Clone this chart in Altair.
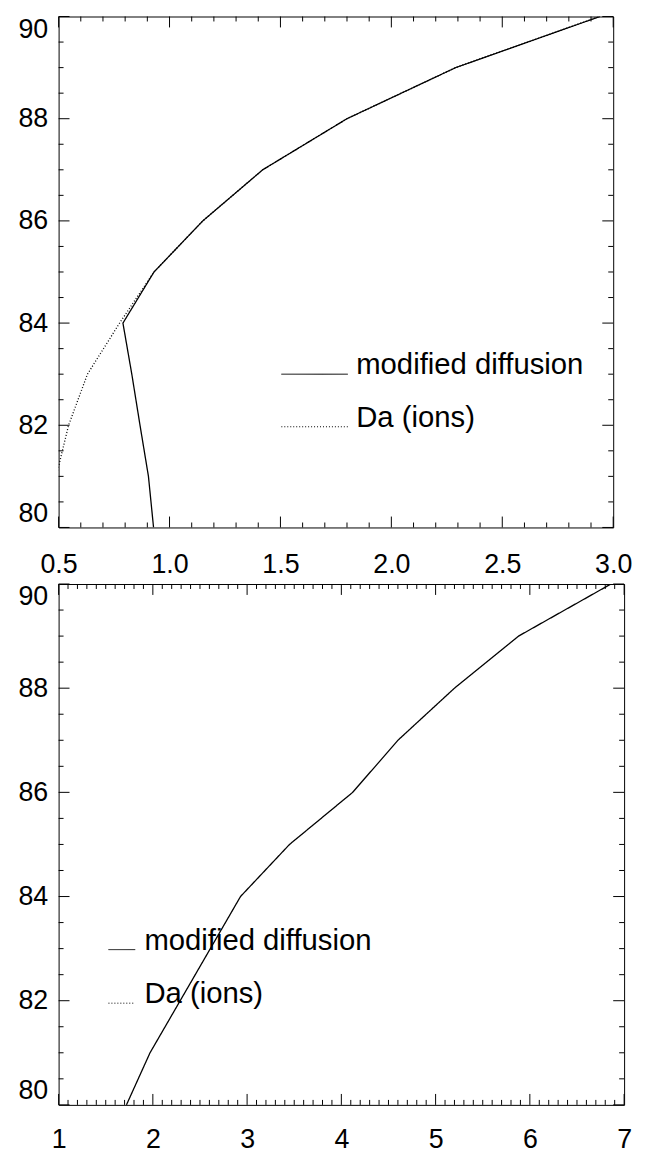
import altair as alt
import pandas as pd

# ---------------- data ----------------
series_names = ["modified diffusion", "Da (ions)"]

# top panel
top_solid_x = [0.928, 0.905, 0.867, 0.83, 0.79, 0.93, 1.15, 1.42, 1.80, 2.29, 2.94]
top_solid_y = [80, 81, 82, 83, 84, 85, 86, 87, 88, 89, 90]
top_dot_x = [0.489, 0.545, 0.63, 0.775, 0.93, 1.15, 1.42, 1.80, 2.29, 2.94]
top_dot_y = [81, 82, 83, 84, 85, 86, 87, 88, 89, 90]

# bottom panel
bot_solid_x = [1.72, 1.97, 2.29, 2.61, 2.93, 3.45, 4.12, 4.60, 5.20, 5.88, 6.86]
bot_solid_y = [80, 81, 82, 83, 84, 85, 86, 87, 88, 89, 90]

# tick positions
top_x_major = [0.5, 1.0, 1.5, 2.0, 2.5, 3.0]
top_x_minor = [0.6, 0.7, 0.8, 0.9, 1.1, 1.2, 1.3, 1.4, 1.6, 1.7, 1.8, 1.9,
               2.1, 2.2, 2.3, 2.4, 2.6, 2.7, 2.8, 2.9]
bot_x_major = [1, 2, 3, 4, 5, 6, 7]
bot_x_minor = [1.1, 1.2, 1.3, 1.4, 1.5, 1.6, 1.7, 1.8, 1.9,
               2.1, 2.2, 2.3, 2.4, 2.5, 2.6, 2.7, 2.8, 2.9,
               3.1, 3.2, 3.3, 3.4, 3.5, 3.6, 3.7, 3.8, 3.9,
               4.1, 4.2, 4.3, 4.4, 4.5, 4.6, 4.7, 4.8, 4.9,
               5.1, 5.2, 5.3, 5.4, 5.5, 5.6, 5.7, 5.8, 5.9,
               6.1, 6.2, 6.3, 6.4, 6.5, 6.6, 6.7, 6.8, 6.9]
y_major = [80, 82, 84, 86, 88, 90]
y_minor = [80.5, 81, 81.5, 82.5, 83, 83.5, 84.5, 85, 85.5,
           86.5, 87, 87.5, 88.5, 89, 89.5]

FONT = "Liberation Sans"
FS = 27
LEG_FS = 29.5
MAJOR_LEN = 11
MINOR_LEN = 5


def tick_layers(xvals_major, xvals_minor, xscale, yscale, xaxis, yaxis, W, H):
    layers = []
    for vals, L in ((xvals_major, MAJOR_LEN), (xvals_minor, MINOR_LEN)):
        df = pd.DataFrame({"v": vals})
        for y0, y1 in ((H, H - L), (0, L)):
            layers.append(
                alt.Chart(df).mark_rule(color="black", strokeWidth=1).encode(
                    x=alt.X("v:Q", scale=xscale, axis=xaxis),
                    y=alt.value(y0), y2=alt.value(y1)))
    for vals, L in ((y_major, MAJOR_LEN), (y_minor, MINOR_LEN)):
        df = pd.DataFrame({"v": vals})
        for x0, x1 in ((0, L), (W, W - L)):
            layers.append(
                alt.Chart(df).mark_rule(color="black", strokeWidth=1).encode(
                    y=alt.Y("v:Q", scale=yscale, axis=yaxis),
                    x=alt.value(x0), x2=alt.value(x1)))
    return layers


def panel(df, xscale, xmajor, xminor, xfmt, xpad, W, H, leg_x, leg_y, sym_len, row_pad):
    yscale = alt.Scale(domain=[80, 90], nice=False, zero=False)
    xaxis = alt.Axis(values=xmajor, format=xfmt, ticks=False, domain=False, grid=False,
                     labelFontSize=FS, labelFont=FONT, labelColor="black",
                     labelPadding=xpad, labelFlush=False, labelOverlap=False, title=None)
    yaxis = alt.Axis(values=y_major, format="d", ticks=False, domain=False, grid=False,
                     labelFontSize=FS, labelFont=FONT, labelColor="black",
                     labelPadding=11, labelFlush=True, labelOverlap=False, title=None)
    legend = alt.Legend(orient="none", legendX=leg_x, legendY=leg_y, title=None,
                        symbolType="stroke", symbolSize=sym_len * sym_len,
                        symbolStrokeWidth=1, symbolStrokeColor="black",
                        labelFontSize=LEG_FS, labelFont=FONT, labelColor="black",
                        labelOffset=8, labelBaseline="alphabetic", labelLimit=0,
                        clipHeight=27, rowPadding=row_pad, padding=0)
    line = alt.Chart(df).mark_line(clip=True, color="black", strokeWidth=1.3).encode(
        x=alt.X("x:Q", scale=xscale, axis=xaxis),
        y=alt.Y("y:Q", scale=yscale, axis=yaxis),
        strokeDash=alt.StrokeDash("series:N",
                                  scale=alt.Scale(domain=series_names, range=[[1, 0], [1, 2]]),
                                  legend=legend),
        order=alt.Order("y:Q"),
    )
    return alt.layer(line, *tick_layers(xmajor, xminor, xscale, yscale, xaxis, yaxis, W, H)).properties(
        width=W, height=H)


top_df = pd.DataFrame({
    "x": top_solid_x + top_dot_x,
    "y": top_solid_y + top_dot_y,
    "series": [series_names[0]] * len(top_solid_x) + [series_names[1]] * len(top_dot_x),
})
bot_df = pd.DataFrame({
    "x": bot_solid_x,
    "y": bot_solid_y,
    "series": [series_names[0]] * len(bot_solid_x),
})

top = panel(top_df, alt.Scale(domain=[0.5, 3.0], nice=False, zero=False),
            top_x_major, top_x_minor, ".1f", 24, 559, 515, 224, 347, 67, 15)
bottom = panel(bot_df, alt.Scale(domain=[1, 7], nice=False, zero=False),
               bot_x_major, bot_x_minor, "d", 22, 570, 525, 49, 355, 27, 16)

chart = alt.vconcat(top, bottom, spacing=4).resolve_scale(
    strokeDash="independent").resolve_legend(strokeDash="independent").properties(
    padding={"left": 9, "top": 2, "right": 5, "bottom": 5},
    background="white",
).configure_view(stroke="black", strokeWidth=1)

chart.save("out.html", embed_options={"renderer": "svg", "actions": False})
